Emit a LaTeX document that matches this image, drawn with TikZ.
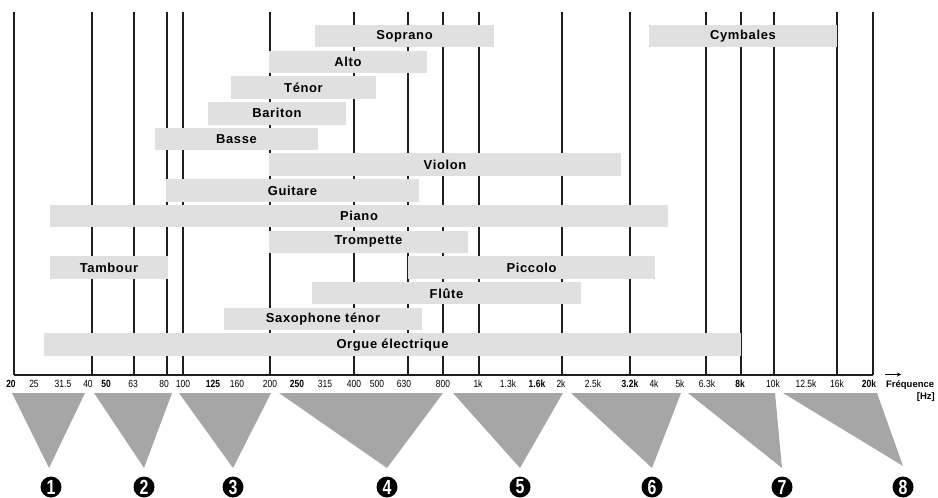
\documentclass[tikz,border=0pt]{standalone}
\usepackage{fontspec}
\usetikzlibrary{arrows.meta}
\setmainfont{Liberation Sans}
\newfontfamily\barfont[LetterSpace=5]{Liberation Sans}
\newfontfamily\tickfont[FakeStretch=0.82]{Liberation Sans}
\newfontfamily\numfont[FakeStretch=0.78]{Liberation Sans}
\definecolor{barfill}{RGB}{224,224,224}
\definecolor{trifill}{RGB}{166,166,166}
\definecolor{gridline}{RGB}{30,30,30}
\newcommand\instr[5]{\node[barbox, minimum width={(#3-#2)*1bp}] (#1) at ({(#2+#3)/2},{36.25+25.7*#4}) {#5};}
\begin{document}
\begin{tikzpicture}[x=1bp,y=-1bp,
  barbox/.style={fill=barfill, draw=none, inner sep=0pt, minimum height=22.5bp, font=\barfont\bfseries\fontsize{13}{15}\selectfont},
  gridstyle/.style={draw=gridline, line width=1.2bp},
  ticklabel/.style={inner sep=0pt, font=\tickfont\fontsize{10.4}{12}\selectfont},
  tri/.style={fill=trifill, draw=none},
  numcirc/.style={circle, fill=black, inner sep=0pt, minimum size=21bp, text=white, font=\numfont\bfseries\fontsize{20.5}{21}\selectfont}]
\useasboundingbox (0,0) rectangle (938,498);
% grid lines
\foreach \x in {14,92,134,167,183,270,354,408,443,479,562,630,706,741,774,837,873}
  \draw[gridstyle] (\x,12) -- (\x,375);
\draw[gridstyle] (14,375) -- (873,375);
% bars
\instr{soprano}{315}{494}{0}{Soprano}
\instr{cymbales}{649}{837}{0}{Cymbales}
\instr{alto}{269}{427}{1}{Alto}
\instr{tenor}{231}{376}{2}{Ténor}
\instr{bariton}{208}{346}{3}{Bariton}
\instr{basse}{155}{318}{4}{Basse}
\instr{violon}{269}{621}{5}{Violon}
\instr{guitare}{166}{419}{6}{Guitare}
\instr{piano}{50}{668}{7}{Piano}
\instr{trompette}{269}{468}{8}{Trompette}
\instr{tambour}{50}{168}{9}{Tambour}
\instr{piccolo}{408}{655}{9}{Piccolo}
\instr{flute}{312}{581}{10}{Flûte}
\instr{saxo}{224}{422}{11}{Saxophone ténor}
\instr{orgue}{44}{741}{12}{Orgue électrique}
% tick labels
\foreach \x/\l/\f in {11/20/\bfseries, 34/25/{}, 63/31.5/{}, 88/40/{}, 106/50/\bfseries, 133/63/{}, 164/80/{}, 183/100/{}, 213/125/\bfseries, 237/160/{}, 270/200/{}, 297/250/\bfseries, 325/315/{}, 354/400/{}, 377/500/{}, 404/630/{}, 443/800/{}, 478/1k/{}, 508/1.3k/{}, 537/1.6k/\bfseries, 561/2k/{}, 593/2.5k/{}, 630/3.2k/\bfseries, 654/4k/{}, 680/5k/{}, 707/6.3k/{}, 740/8k/\bfseries, 773/10k/{}, 806/12.5k/{}, 837/16k/{}, 869/20k/\bfseries}
  \node[ticklabel] (tick\x) at (\x,384) {\f\l};
% frequency label
\node[inner sep=0pt, anchor=west, font=\bfseries\fontsize{9.5}{11}\selectfont] (freq) at (886,385) {Fréquence};
\node[inner sep=0pt, anchor=east, font=\bfseries\fontsize{9.5}{11}\selectfont] (hz) at (935,397) {[Hz]};
\coordinate (arrs) at (885,374.5);
\coordinate (arre) at (901,374.5);
\draw[line width=1.2bp, -{Stealth[length=4bp,width=4bp]}] (arrs) -- (arre);
% triangles
\fill[tri] (12,393) -- (85,393) -- (49,468) -- cycle;
\fill[tri] (94,393) -- (172,393) -- (144,468) -- cycle;
\fill[tri] (179,393) -- (271,393) -- (233,468) -- cycle;
\fill[tri] (279,393) -- (443,393) -- (387,468) -- cycle;
\fill[tri] (453,393) -- (563,393) -- (520,468) -- cycle;
\fill[tri] (571,393) -- (681,393) -- (652,468) -- cycle;
\fill[tri] (688,393) -- (775,393) -- (782,468) -- cycle;
\fill[tri] (783,393) -- (877,393) -- (903,466) -- cycle;
% numbers
\node[numcirc] (n1) at (51,487) {1};
\node[numcirc] (n2) at (144,487) {2};
\node[numcirc] (n3) at (233,487) {3};
\node[numcirc] (n4) at (387,487) {4};
\node[numcirc] (n5) at (520,487) {5};
\node[numcirc] (n6) at (652,487) {6};
\node[numcirc] (n7) at (782,487) {7};
\node[numcirc] (n8) at (903,487) {8};
\end{tikzpicture}
\end{document}
